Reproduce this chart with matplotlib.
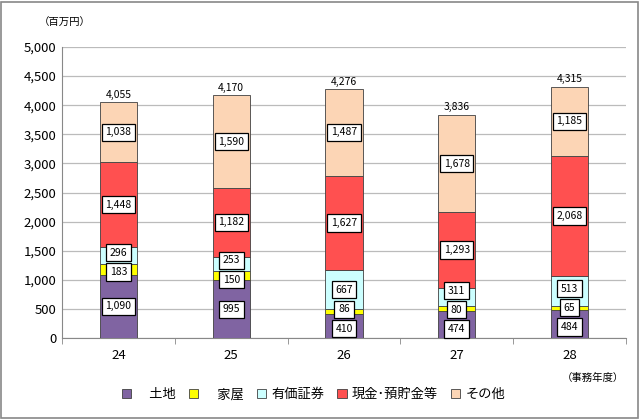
import matplotlib
matplotlib.use('Agg')
from matplotlib import pyplot as plt
import numpy as np

plt.rcParams['font.family'] = ['Noto Sans CJK JP', 'DejaVu Sans']

years = ['24', '25', '26', '27', '28']
series_names = ['\u3000土地', '\u3000家屋', '有価証券', '現金･預貯金等', 'その他']
tochi = [1090, 995, 410, 474, 484]
kaoku = [183, 150, 86, 80, 65]
yuka = [296, 253, 667, 311, 513]
genkin = [1448, 1182, 1627, 1293, 2068]
sonota = [1038, 1590, 1487, 1678, 1185]
totals = [4055, 4170, 4276, 3836, 4315]

colors = ['#8064A2', '#FFFF00', '#CCFFFF', '#FF5050', '#FCD5B5']

fig = plt.figure(figsize=(6.4, 4.19), dpi=100)
ax = fig.add_axes([0.097, 0.193, 0.881, 0.695])

x = np.arange(len(years))
data = np.array([tochi, kaoku, yuka, genkin, sonota])
bottoms = np.vstack([np.zeros(len(years)), np.cumsum(data, axis=0)[:-1]])

handles = []
for vals, b0, name, c in zip(data, bottoms, series_names, colors):
    b = ax.bar(x, vals, 0.33, bottom=b0, color=c, edgecolor='#404040',
               linewidth=0.6, label=name, zorder=3)
    handles.append(b)

# label positions: segment centres, pushed apart where they would overlap
min_gap = 330
for j in range(len(years)):
    ys = list(bottoms[:, j] + data[:, j] / 2)
    for _ in range(20):
        for i in range(1, len(ys)):
            d = ys[i] - ys[i - 1]
            if d < min_gap:
                shift = (min_gap - d) / 2
                ys[i] += shift
                ys[i - 1] -= shift
        ys[0] = max(ys[0], 140)
    for i, yv in enumerate(ys):
        ax.text(x[j], yv, f'{data[i, j]:,}', ha='center', va='center', fontsize=7.5,
                zorder=5,
                bbox=dict(boxstyle='square,pad=0.35', fc='white', ec='black', lw=0.9))

tops = data.sum(axis=0)
for xi, t, top in zip(x, totals, tops):
    ax.text(xi, top + 40, f'{t:,}', ha='center', va='bottom', fontsize=7.5)

ax.set_xlim(-0.5, len(years) - 0.5)
ax.set_ylim(0, 5000)
ax.set_yticks(np.arange(0, 5001, 500))
ax.set_yticklabels([f'{v:,}' for v in range(0, 5001, 500)], fontsize=9.5)
ax.set_xticks(x)
ax.set_xticklabels(years, fontsize=9.5)
ax.set_xticks(np.arange(-0.5, len(years), 1), minor=True)
ax.tick_params(axis='x', which='major', length=0, pad=8)
ax.tick_params(axis='x', which='minor', length=4, color='#888888', direction='out')
ax.tick_params(axis='y', length=0, pad=4)
ax.grid(axis='y', color='#BBBBBB', linewidth=0.9, zorder=0)
for s in ['top', 'right']:
    ax.spines[s].set_visible(False)
ax.spines['left'].set_color('#888888')
ax.spines['bottom'].set_color('#888888')

fig.text(0.06, 0.945, '（百万円）', fontsize=7.5, ha='left', va='center')
fig.text(0.975, 0.098, '（事務年度）', fontsize=7.5, ha='right', va='center')

fig.legend(handles=handles, labels=series_names, loc='center', bbox_to_anchor=(0.49, 0.058),
           ncol=5, frameon=False, fontsize=9.5, handlelength=0.7, handleheight=0.7,
           columnspacing=1.0, handletextpad=0.4)

fig.patches.append(plt.Rectangle((0.002, 0.003), 0.995, 0.993, transform=fig.transFigure,
                                 fill=False, ec='#888888', lw=1.2))

fig.savefig('out.png', dpi=100)
